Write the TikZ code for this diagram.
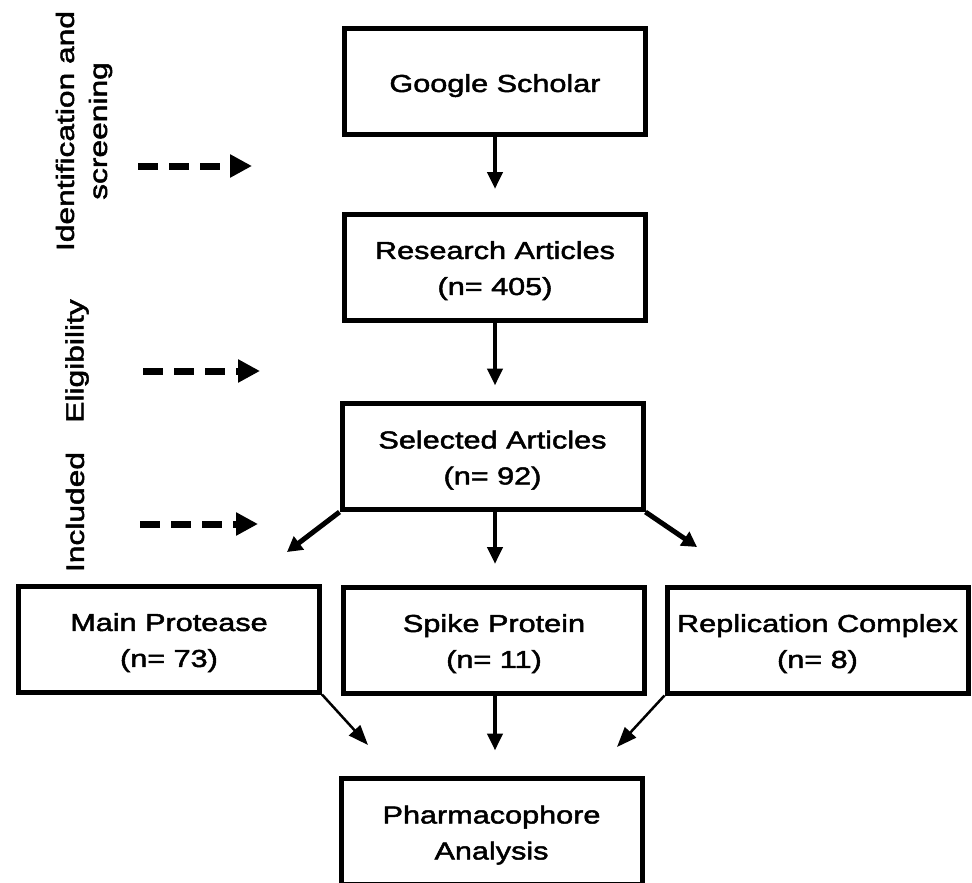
\documentclass[tikz,border=0pt]{standalone}
\usepackage{fontspec}
\setmainfont{Liberation Sans}
\newfontfamily\boxfont[FakeStretch=1.25,FakeBold=2]{Liberation Sans}
\newfontfamily\stagefont[FakeStretch=1.27,FakeBold=2]{Liberation Sans}
\usetikzlibrary{arrows.meta}

\begin{document}
\begin{tikzpicture}[x=1pt, y=-1pt]

\tikzstyle{boxbase}=[align=center,draw=black,line width=5pt,minimum
width=301pt,minimum height=106pt,inner sep=0pt,font=\boxfont\fontsize{24.5}{36}\selectfont]
\tikzstyle{prismanode}=[boxbase,execute at begin node=\rule{0pt}{61pt}]
\tikzstyle{sourcenode}=[boxbase,execute at begin node=\rule{0pt}{26pt}]
\tikzstyle{stagelabel}=[align=center,rotate=90,inner sep=0pt,font=\stagefont\fontsize{25}{33}\selectfont]
\tikzstyle{flowarrow}=[line width=4.5pt,-{Triangle[length=17pt,width=15pt]}]
\tikzstyle{splitarrow}=[line width=5pt,-{Triangle[length=15pt,width=16pt]}]
\tikzstyle{mergearrow}=[line width=2.5pt,-{Triangle[length=20pt,width=15pt]}]
\tikzstyle{stagearrow}=[line width=7pt,dash pattern=on 20pt off 11pt,-{Triangle[length=22pt,width=22pt]}]

\useasboundingbox (0,0) rectangle (972,883);

% main column
\node[sourcenode] (scholar) at (495,81.5) {Google Scholar};
\node[prismanode] (research) at (495,267) {Research Articles\\(n= 405)};
\node[prismanode] (selected) at (492.5,456.5) {Selected Articles\\(n= 92)};
\node[prismanode] (mpro) at (169,639) {Main Protease\\(n= 73)};
\node[prismanode] (spike) at (494,640) {Spike Protein\\(n= 11)};
\node[prismanode] (replic) at (817.5,640) {Replication Complex\\(n= 8)};
\node[prismanode] (pharma) at (491.5,831.5) {Pharmacophore\\Analysis};

% stages on the left
\node[stagelabel] (idscreen) at (84,131) {Identification and\\screening};
\node[stagelabel] (elig) at (77,361) {Eligibility};
\node[stagelabel] (incl) at (75,512) {Included};

\coordinate (idfrom) at (138,166);
\coordinate (idto) at (252,166);
\coordinate (eligfrom) at (143,371);
\coordinate (eligto) at (260,371);
\coordinate (inclfrom) at (140,524);
\coordinate (inclto) at (258,524);

\draw[stagearrow] (idfrom) -- (idto);
\draw[stagearrow] (eligfrom) -- (eligto);
\draw[stagearrow] (inclfrom) -- (inclto);

\draw[flowarrow,shorten >=22.5pt] (scholar.south) -- (scholar.south |- research.north);
\draw[flowarrow,shorten >=15.5pt] (research.south) -- (research.south |- selected.north);
\draw[flowarrow,shorten >=20.5pt] (research.south |- selected.south) -- (research.south |- spike.north);
\draw[flowarrow,shorten >=25.5pt] (research.south |- spike.south) -- (research.south |- pharma.north);

% branches
\coordinate (tomain) at (287,552);
\coordinate (toreplic) at (697,547);
\draw[splitarrow] (selected.south west) -- (tomain);
\draw[splitarrow] (selected.south east) -- (toreplic);

\coordinate (frommain) at (368,745);
\coordinate (fromreplic) at (617,747);
\draw[mergearrow] (mpro.south east) -- (frommain);
\draw[mergearrow] (replic.south west) -- (fromreplic);
\end{tikzpicture}
\end{document}
